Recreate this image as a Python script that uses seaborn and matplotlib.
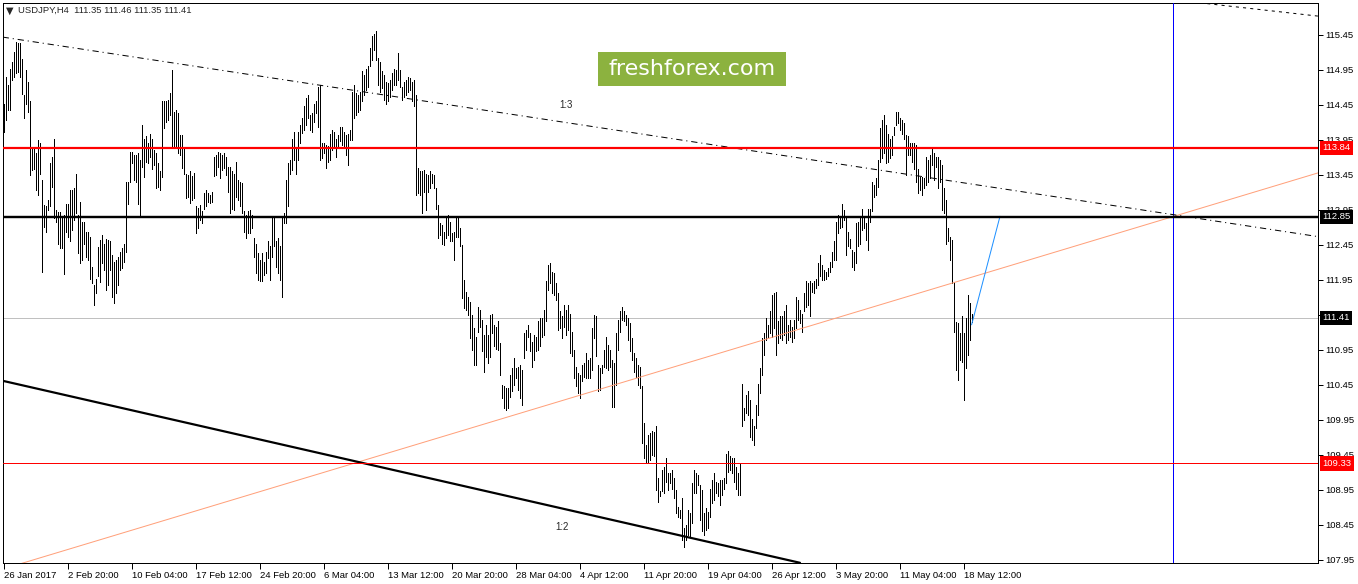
import matplotlib
matplotlib.use("Agg")
import matplotlib.pyplot as plt
import matplotlib.transforms as mtransforms
from matplotlib.patches import Rectangle
import numpy as np
import pandas as pd
import seaborn as sns

# H4 bars, high / low (bar 0 = 26 Jan 2017)
bar_high = [
    114.46, 114.85, 114.73, 114.97, 115.07, 115.20, 115.35, 115.33, 115.33, 115.10,
    114.59, 114.95, 114.78, 114.50, 113.83, 113.85, 113.76, 113.95, 113.90, 113.38,
    113.02, 113.00, 113.09, 113.62, 113.71, 113.97, 112.95, 112.92, 112.92, 112.85,
    112.88, 113.04, 113.04, 113.23, 113.23, 113.26, 113.47, 112.88, 113.07, 112.78,
    112.78, 112.64, 112.64, 112.57, 112.14, 111.88, 111.97, 112.42, 112.52, 112.59,
    112.47, 112.54, 112.52, 112.50, 112.31, 112.21, 112.23, 112.28, 112.35, 112.40,
    112.47, 113.35, 113.35, 113.78, 113.78, 113.73, 113.73, 113.76, 113.66, 114.16,
    113.97, 114.00, 113.90, 114.04, 113.97, 113.81, 113.76, 113.62, 113.50, 114.50,
    114.50,
    114.50, 114.52, 114.62, 114.95, 114.35, 114.38, 114.33, 114.02, 114.02, 113.85,
    113.47, 113.45, 113.50, 113.44, 113.48, 113.00, 112.98, 113.02, 112.93, 113.19,
    113.24, 113.19, 113.17, 113.20, 113.71, 113.74, 113.78, 113.76, 113.74, 113.77,
    113.71, 113.57, 113.57, 113.50, 113.47, 113.64, 113.38, 113.35, 113.33, 112.93,
    112.88, 112.93, 112.95, 112.88, 112.55, 112.47, 112.33, 112.24, 112.33, 112.21,
    112.35, 112.50, 112.43, 112.83, 112.85, 112.50, 112.55, 112.43, 112.85, 112.90,
    113.38, 113.62, 113.66, 113.97, 114.07, 113.85, 114.07, 114.16, 114.26, 114.43,
    114.55, 114.59, 114.31, 114.33, 114.47, 114.50, 114.71, 114.74, 113.90, 113.90,
    113.88,
    113.86, 114.04, 114.09, 114.07, 113.97, 114.02, 114.14, 114.14, 114.07, 114.02,
    114.04, 114.09, 114.64, 114.74, 114.62, 114.59, 114.64, 114.93, 114.88, 114.97,
    115.00, 115.26, 115.43, 115.47, 115.50, 115.12, 115.07, 114.93, 114.88, 114.78,
    114.76, 114.81, 114.90, 114.97, 114.95, 115.19, 114.95, 114.71, 114.78, 114.81,
    114.85, 114.83, 114.78, 114.81, 114.59, 113.55, 113.50, 113.50, 113.52, 113.47,
    113.45, 113.50, 113.47, 113.45, 113.26, 113.02, 112.76, 112.74, 112.64, 112.83,
    112.88, 112.78, 112.62, 112.64, 112.85, 112.85, 112.69, 112.45, 111.95, 111.78,
    111.71, 111.64, 111.45, 111.26, 111.14, 111.57, 111.52, 111.38, 111.16, 111.31,
    111.16, 111.45,
    111.47, 111.31, 111.28, 111.36, 111.05, 110.45, 110.43, 110.40, 110.40, 110.59,
    110.69, 110.83, 110.69, 110.71, 110.74, 110.66, 111.19, 111.24, 111.31, 111.19,
    111.07, 111.16, 111.14, 111.36, 111.40, 111.40, 111.52, 111.93, 112.16, 112.19,
    112.07, 112.05, 111.90, 111.76, 111.50, 111.43, 111.59, 111.52, 111.59, 111.47,
    111.21, 110.95, 110.71, 110.62, 110.59, 110.74, 110.76, 110.90, 110.81, 110.83,
    111.26, 111.45, 111.43, 110.74, 110.69, 110.74, 110.95, 111.14, 111.02, 110.95,
    110.81, 110.76, 111.19, 111.38, 111.50, 111.57, 111.50, 111.45, 111.40, 111.33,
    111.12, 110.90, 110.83, 110.74, 110.71, 110.43, 109.90, 109.59, 109.74, 109.76,
    109.79,
    109.78, 109.86, 109.12, 108.93, 109.24, 109.28, 109.40, 109.19, 109.19, 109.24,
    109.12, 108.95, 108.71, 108.66, 108.83, 108.40, 108.45, 108.66, 108.62, 109.05,
    109.24, 109.19, 109.17, 109.02, 108.95, 108.62, 108.69, 108.64, 108.97, 109.09,
    109.19, 109.07, 109.05, 109.09, 109.09, 109.12, 109.47, 109.50, 109.43, 109.40,
    109.40, 109.28, 109.19, 109.33, 110.47, 110.12, 110.31, 110.36, 110.24, 109.97,
    109.86, 110.17, 110.47, 110.69, 111.12, 111.19, 111.40, 111.31, 111.50, 111.74,
    111.76, 111.78, 111.36, 111.43, 111.43, 111.50, 111.59, 111.31, 111.38, 111.28,
    111.38, 111.71, 111.66, 111.52, 111.47, 111.76, 111.93, 111.90, 111.93, 111.90,
    111.93, 111.97,
    112.19, 112.31, 112.16, 112.09, 112.07, 112.12, 112.21, 112.35, 112.50, 112.78,
    112.88, 112.85, 113.04, 112.95, 112.83, 112.64, 112.54, 112.38, 112.35, 112.76,
    112.78, 112.83, 112.97, 112.85, 112.76, 112.97, 112.97, 113.35, 113.31, 113.40,
    113.66, 114.12, 114.24, 114.31, 114.16, 114.04, 113.97, 114.00, 114.14, 114.35,
    114.35, 114.26, 114.24, 114.19, 114.02, 114.00, 113.90, 113.90, 113.90, 113.88,
    113.54, 113.42, 113.42, 113.40, 113.71, 113.66, 113.74, 113.83, 113.76, 113.71,
    113.71, 113.66, 113.59, 113.26, 113.09, 112.69, 112.57, 112.52, 111.92, 111.35,
    111.33, 111.19, 111.43, 111.19, 111.40, 111.73, 111.62, 111.46,
]
bar_low = [
    114.07, 114.23, 114.38, 114.38, 114.81, 114.85, 114.90, 114.92, 114.85, 114.60,
    114.26, 114.47, 114.35, 113.45, 113.52, 113.54, 113.23, 113.16, 113.47, 112.07,
    112.71, 112.64, 112.95, 113.00, 113.28, 112.83, 112.78, 112.47, 112.40, 112.40,
    112.04, 112.64, 112.57, 112.50, 112.66, 112.81, 112.90, 112.33, 112.19, 112.24,
    112.47, 112.28, 112.24, 111.97, 111.90, 111.59, 111.76, 112.00, 111.92, 112.19,
    112.09, 111.81, 111.88, 112.09, 111.71, 111.62, 111.76, 111.88, 112.09, 112.12,
    112.21, 112.35, 113.04, 113.35, 113.62, 113.38, 113.35, 113.04, 112.85, 113.57,
    113.42, 113.64, 113.62, 113.71, 113.54, 113.59, 113.26, 113.28, 113.23, 113.42,
    114.12,
    114.21, 114.24, 114.31, 113.85, 113.83, 113.85, 113.76, 113.74, 113.55, 113.47,
    113.12, 113.14, 113.05, 113.09, 113.12, 112.62, 112.69, 112.81, 112.76, 112.97,
    113.00, 113.07, 113.05, 113.07, 113.43, 113.45, 113.57, 113.40, 113.52, 113.55,
    113.45, 113.21, 112.90, 112.97, 112.95, 113.14, 113.09, 113.00, 112.90, 112.64,
    112.55, 112.62, 112.62, 112.69, 112.28, 112.05, 111.95, 111.93, 111.93, 112.02,
    112.05, 112.26, 111.95, 112.28, 112.43, 112.14, 112.05, 111.95, 111.71, 112.76,
    112.76, 113.00, 113.47, 113.52, 113.66, 113.47, 113.66, 113.90, 114.05, 114.09,
    114.16, 114.26, 114.09, 114.07, 114.21, 114.33, 114.14, 113.66, 113.69, 113.76,
    113.55,
    113.64, 113.66, 113.81, 113.83, 113.71, 113.85, 113.93, 113.88, 113.85, 113.74,
    113.59, 113.95, 113.95, 114.26, 114.31, 114.35, 114.38, 114.50, 114.59, 114.66,
    114.71, 115.00, 115.09, 115.24, 115.09, 114.74, 114.64, 114.69, 114.52, 114.47,
    114.50, 114.57, 114.66, 114.74, 114.74, 114.81, 114.71, 114.52, 114.57, 114.59,
    114.64, 114.66, 114.50, 114.43, 113.16, 113.19, 113.16, 112.90, 113.21, 112.95,
    113.21, 113.26, 113.33, 113.26, 112.97, 112.55, 112.59, 112.47, 112.45, 112.55,
    112.59, 112.50, 112.50, 112.24, 112.57, 112.57, 112.43, 111.69, 111.55, 111.52,
    111.45, 111.12, 110.95, 110.74, 110.74, 111.21, 111.28, 110.93, 110.64, 110.85,
    110.76, 110.85,
    111.19, 111.00, 110.97, 110.95, 110.59, 110.26, 110.12, 110.09, 110.12, 110.28,
    110.36, 110.45, 110.55, 110.38, 110.26, 110.17, 110.83, 110.95, 111.14, 110.93,
    110.71, 110.81, 110.93, 110.95, 111.00, 111.14, 111.17, 111.36, 111.81, 111.90,
    111.76, 111.74, 111.66, 111.24, 111.26, 111.12, 111.28, 111.17, 111.24, 110.90,
    110.86, 110.55, 110.43, 110.33, 110.26, 110.50, 110.57, 110.55, 110.55, 110.55,
    110.66, 111.12, 110.86, 110.36, 110.38, 110.62, 110.71, 110.69, 110.66, 110.71,
    110.14, 110.14, 110.45, 110.95, 111.21, 111.38, 111.36, 111.31, 111.09, 110.93,
    110.81, 110.64, 110.57, 110.45, 110.40, 109.62, 109.40, 109.33, 109.33, 109.38,
    109.45,
    109.43, 108.95, 108.78, 108.86, 108.93, 108.90, 109.07, 108.95, 109.05, 108.97,
    108.83, 108.62, 108.57, 108.55, 108.24, 108.14, 108.24, 108.31, 108.28, 108.48,
    108.90, 108.90, 109.02, 108.52, 108.36, 108.31, 108.38, 108.40, 108.57, 108.76,
    108.81, 108.90, 108.86, 108.74, 108.88, 108.97, 109.05, 109.21, 109.24, 109.19,
    109.07, 108.97, 108.88, 108.88, 109.86, 109.95, 110.05, 110.02, 109.71, 109.66,
    109.59, 109.83, 110.02, 110.33, 110.59, 110.88, 111.09, 111.14, 111.19, 111.14,
    111.26, 110.88, 111.05, 111.12, 111.09, 111.17, 111.05, 111.09, 111.14, 111.07,
    111.12, 111.26, 111.38, 111.33, 111.21, 111.50, 111.57, 111.59, 111.43, 111.78,
    111.76, 111.83,
    111.88, 112.00, 111.95, 111.95, 111.97, 112.00, 112.07, 112.14, 112.24, 112.24,
    112.62, 112.69, 112.71, 112.81, 112.31, 112.43, 112.40, 112.14, 112.09, 112.19,
    112.43, 112.47, 112.66, 112.69, 112.52, 112.38, 112.78, 112.93, 113.14, 113.16,
    113.28, 113.64, 113.69, 113.76, 113.62, 113.64, 113.69, 113.74, 114.02, 114.16,
    114.19, 114.09, 114.04, 113.97, 113.45, 113.74, 113.74, 113.64, 113.54, 113.35,
    113.19, 113.24, 113.16, 113.26, 113.31, 113.35, 113.40, 113.59, 113.38, 113.57,
    113.26, 113.35, 112.95, 112.90, 112.47, 112.50, 112.24, 111.90, 111.21, 110.66,
    110.52, 110.81, 110.78, 110.24, 110.69, 110.88, 111.09, 111.35,
]

date_labels = ["26 Jan 2017", "2 Feb 20:00", "10 Feb 04:00", "17 Feb 12:00",
               "24 Feb 20:00", "6 Mar 04:00", "13 Mar 12:00", "20 Mar 20:00",
               "28 Mar 04:00", "4 Apr 12:00", "11 Apr 20:00", "19 Apr 04:00",
               "26 Apr 12:00", "3 May 20:00", "11 May 04:00", "18 May 12:00"]
date_bars = [0, 32, 64, 96, 128, 160, 192, 224, 256, 288, 320, 352, 384, 416, 448, 480]

price_ticks = [107.95, 108.45, 108.95, 109.45, 109.95, 110.45, 110.95,
               111.45, 111.95, 112.45, 112.95, 113.45, 113.95, 114.45, 114.95, 115.45]

# horizontal levels: price, colour, width (px), label box colour
level_price = [113.84, 112.85, 111.41, 109.33]
level_color = ["#ff0000", "#000000", "#c0c0c0", "#ff0000"]
level_width = [2.2, 2.4, 1.0, 1.0]
level_box = ["#ff0000", "#000000", "#000000", "#ff0000"]

# trend lines as (bar, price) end points
line_13_bars, line_13_prices = [-0.45, 657.2], [115.42, 112.57]
line_top_bars, line_top_prices = [598.2, 657.2], [115.91, 115.72]
line_12_bars, line_12_prices = [-0.45, 398.2], [110.51, 107.91]
support_bars, support_prices = [-0.45, 657.2], [107.82, 113.48]
target_bars, target_prices = [484.0, 498.2], [111.31, 112.86]
cursor_bar = 584.7
last_quote = "USDJPY,H4  111.35 111.46 111.35 111.41"

sns.set_style("white")
plt.rcParams["font.family"] = ["Liberation Sans", "DejaVu Sans"]
plt.rcParams["lines.scale_dashes"] = False

W, H = 1358, 584
fig = plt.figure(figsize=(W / 100, H / 100), dpi=100)
ax = fig.add_axes([2.7 / W, 21 / H, 1315.3 / W, 560.3 / H])
px = 0.72  # one pixel in points

bars = pd.DataFrame({"bar": np.arange(len(bar_high)), "high": bar_high, "low": bar_low})

for p, c, w in zip(level_price, level_color, level_width):
    if c == "#c0c0c0":
        ax.axhline(p, color=c, lw=w * px, zorder=1)

ax.vlines(bars["bar"], bars["low"], bars["high"], color="black", lw=px,
          antialiased=False, zorder=2)

for p, c, w in zip(level_price, level_color, level_width):
    if c != "#c0c0c0":
        ax.axhline(p, color=c, lw=w * px, zorder=4)

ax.axvline(cursor_bar, color="#0000ff", lw=px, zorder=3)

sns.lineplot(x=support_bars, y=support_prices, ax=ax, color="#ffa07a", lw=px, zorder=3)
sns.lineplot(x=line_13_bars, y=line_13_prices, ax=ax, color="black", lw=px,
             linestyle=(0, (4.5, 2.8, 0.8, 2.8)), zorder=3)
sns.lineplot(x=line_top_bars, y=line_top_prices, ax=ax, color="black", lw=px,
             linestyle=(0, (2.2, 3.0)), zorder=3)
sns.lineplot(x=line_12_bars, y=line_12_prices, ax=ax, color="black", lw=2.2 * px, zorder=3)
sns.lineplot(x=target_bars, y=target_prices, ax=ax, color="#1e90ff", lw=px, zorder=3)

ax.text(281.2, 114.45, "1:3", fontsize=7, ha="center", va="center")
ax.text(279.2, 108.42, "1:2", fontsize=7, ha="center", va="center")

ax.set_xlim(-0.45, 657.2)
ax.set_ylim(115.95 - 563 / 70, 115.95 - 2.7 / 70)
ax.set_xlabel("")
ax.set_ylabel("")

ax.yaxis.tick_right()
ax.set_yticks(price_ticks)
ax.set_yticklabels([f"{t:.2f}" for t in price_ticks])
ax.set_xticks(date_bars)
ax.set_xticklabels(date_labels)
for lbl in ax.get_xticklabels():
    lbl.set_horizontalalignment("left")
ax.tick_params(axis="y", right=True, left=False, length=3.5, width=px, pad=2,
               labelsize=6.8, colors="black", direction="out")
ax.tick_params(axis="x", bottom=True, length=4, width=px, pad=1.5,
               labelsize=6.8, colors="black", direction="out")
for s in ax.spines.values():
    s.set_visible(True)
    s.set_color("black")
    s.set_linewidth(px)

# price boxes on the right scale
trans = mtransforms.blended_transform_factory(ax.transAxes, ax.transData)
for p, bc in zip(level_price, level_box):
    ax.text(1.0032, p, f"{p:.2f}", transform=trans, ha="left", va="center",
            fontsize=6.8, color="white", clip_on=False, zorder=10,
            bbox=dict(boxstyle="square,pad=0.28", fc=bc, ec="none"))

# header and watermark
fig.text(9.5 / W, 1 - 10.5 / H, "\u25bc", fontsize=7, ha="center", va="center",
         family=["DejaVu Sans"])
fig.text(18 / W, 1 - 10 / H, last_quote, fontsize=6.8, ha="left", va="center")
fig.patches.append(Rectangle((598 / W, 1 - 86 / H), 188 / W, 34 / H,
                             transform=fig.transFigure, fc="#8cb23f", ec="none", zorder=5))
fig.text(692 / W, 1 - 69 / H, "freshforex.com", fontsize=16, color="white",
         ha="center", va="center", family=["DejaVu Sans"], zorder=6)

fig.savefig("out.png", dpi=100, facecolor="white")
